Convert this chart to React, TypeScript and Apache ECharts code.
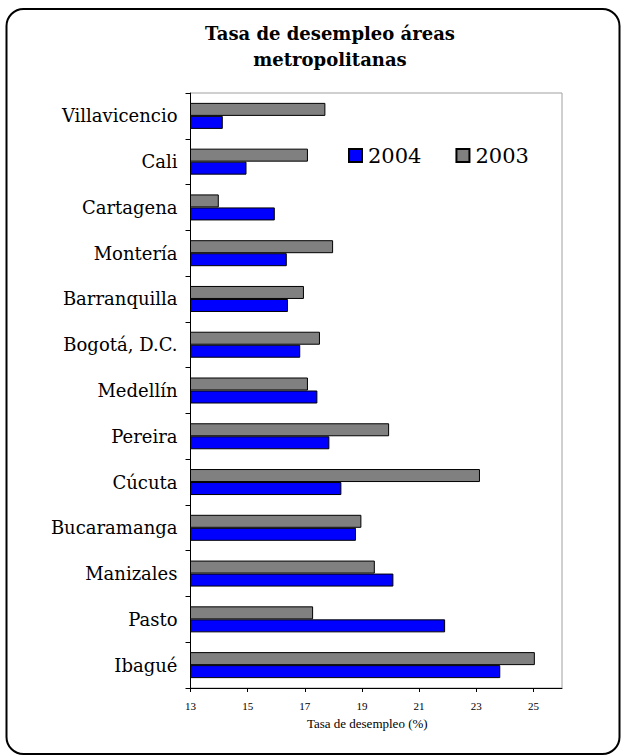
import React, { useEffect, useRef } from "react";
import * as echarts from "echarts";

const categories = [
  "Villavicencio",
  "Cali",
  "Cartagena",
  "Montería",
  "Barranquilla",
  "Bogotá, D.C.",
  "Medellín",
  "Pereira",
  "Cúcuta",
  "Bucaramanga",
  "Manizales",
  "Pasto",
  "Ibagué",
];
const values2004 = [14.13, 14.96, 15.95, 16.37, 16.41, 16.84, 17.44, 17.86, 18.28, 18.79, 20.1, 21.91, 23.84];
const values2003 = [17.72, 17.11, 13.99, 17.99, 16.97, 17.53, 17.11, 19.95, 23.13, 18.98, 19.45, 17.29, 25.05];
const xTicks = [13, 15, 17, 19, 21, 23, 25];
const legendNames = ["2004", "2003"];

export default function App() {
  const ref = useRef<HTMLDivElement>(null);
  useEffect(() => {
    if (!ref.current) return;
    const chart = echarts.init(ref.current, undefined, { renderer: "svg" });
    chart.setOption({
      animation: false,
      backgroundColor: "#ffffff",
      title: {
        text: "Tasa de desempleo áreas\nmetropolitanas",
        left: 330,
        top: 20,
        textAlign: "center",
        padding: 0,
        textStyle: {
          fontFamily: "DejaVu Serif",
          fontWeight: "bold",
          fontSize: 18,
          lineHeight: 26,
          color: "#000",
        },
      },
      legend: {
        data: legendNames,
        left: 348,
        top: 145,
        padding: 0,
        itemWidth: 13,
        itemHeight: 13,
        itemGap: 34,
        icon: "rect",
        textStyle: { fontFamily: "DejaVu Serif", fontSize: 21, color: "#000", padding: [0, 0, 0, 1] },
      },
      grid: {
        left: 190.5,
        right: 59,
        top: 93,
        bottom: 68,
        show: true,
        borderColor: "#a0a0a0",
        borderWidth: 1,
        backgroundColor: "transparent",
      },
      xAxis: {
        type: "value",
        min: 13,
        max: 26,
        interval: 2,
        splitLine: { show: false },
        axisLine: { show: true, lineStyle: { color: "#000", width: 1 } },
        axisTick: { show: true, length: 4, customValues: xTicks, lineStyle: { color: "#000" } },
        axisLabel: {
          customValues: xTicks,
          fontFamily: "Liberation Serif",
          fontSize: 11,
          color: "#000",
          margin: 12,
        },
        name: "Tasa de desempleo (%)",
        nameLocation: "middle",
        nameGap: 29,
        nameTextStyle: {
          fontFamily: "Liberation Serif",
          fontSize: 13,
          color: "#000",
          padding: [0, 18, 0, 0],
        },
      },
      yAxis: {
        type: "category",
        data: categories,
        inverse: true,
        axisLine: { show: true, lineStyle: { color: "#000", width: 1 } },
        axisTick: { show: true, length: 5, lineStyle: { color: "#000" } },
        axisLabel: {
          fontFamily: "DejaVu Serif",
          fontSize: 18,
          color: "#000",
          margin: 13,
          padding: [0, 0, 12, 0],
        },
      },
      series: [
        {
          name: "2003",
          type: "bar",
          data: values2003,
          barWidth: 13,
          barGap: "0%",
          itemStyle: { color: "#808080", borderColor: "#000", borderWidth: 1 },
        },
        {
          name: "2004",
          type: "bar",
          data: values2004,
          barWidth: 13,
          barGap: "0%",
          itemStyle: { color: "#0000ff", borderColor: "#000", borderWidth: 1 },
        },
      ],
      graphic: [
        {
          type: "rect",
          shape: { x: 6.5, y: 9, width: 613, height: 745, r: 17 },
          style: { fill: "none", stroke: "#000", lineWidth: 2 },
          silent: true,
        },
      ],
    });
    return () => chart.dispose();
  }, []);
  return (
    <div
      ref={ref}
      style={{ position: "fixed", left: 0, top: 0, width: 621, height: 756 }}
    />
  );
}
